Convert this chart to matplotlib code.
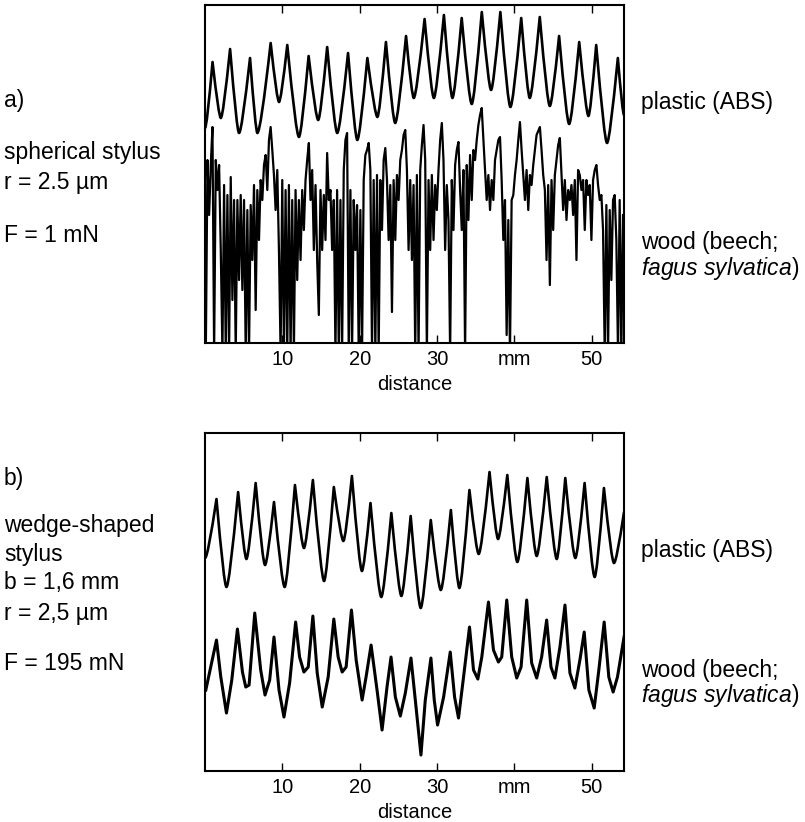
import numpy as np
import matplotlib.pyplot as plt
from matplotlib.path import Path
from matplotlib.patches import PathPatch

plt.rcParams['font.family'] = ['Liberation Sans', 'DejaVu Sans']
plt.rcParams['mathtext.fontset'] = 'custom'
plt.rcParams['mathtext.rm'] = 'Liberation Sans'
plt.rcParams['mathtext.it'] = 'Liberation Sans:italic'

# ---- a) spherical stylus ----
# plastic (ABS): cusp peaks and troughs (distance in mm, height in arbitrary units)
abs_a_peak_x = [0.97, 3.24, 5.82, 8.49, 10.64, 13.4, 15.8, 18.5, 21.0, 23.4, 26.0,
                28.4, 30.9, 33.2, 35.8, 38.2, 40.9, 43.3, 45.8, 48.4, 50.6, 53.4]
abs_a_peak_h = [281, 294, 285, 300, 298, 287, 296, 290, 285, 301, 307,
                324, 328, 325, 331, 331, 325, 326, 307, 301, 298, 285]
# first and last entries are the profile values at the scan ends
abs_a_trough_x = [0.0, 2.04, 4.4, 6.77, 9.57, 12.15, 14.64, 17.1, 19.7, 22.3, 24.6, 27.0,
                  29.6, 32.0, 34.5, 37.0, 39.5, 42.0, 44.6, 47.1, 49.6, 52.0, 54.2]
abs_a_trough_h = [215, 225, 210, 210, 241, 206, 223, 210, 203, 226, 220, 245,
                  245, 245, 239, 253, 236, 245, 237, 219, 227, 200, 228]

# wood (beech), profile samples
wood_a_x0 = 0.1
wood_a_step = 0.215
wood_a_h = [
    -10, 183, 128, 178, 216, -10, 183, 153, 178, 93, -10, 158, -10, 148, -10, 166,
    43, 143, -10, 143, 63, 148, 53, 143, -10, 133, -10, 138, 83, 158, 33, 153,
    103, 163, 143, 178, 188, 153, 203, 216, 193, 168, 133, 173, 93, -10, 163, -10,
    153, -10, 158, -10, 143, -10, 153, 63, 143, 83, 153, 113, 163, 183, 200, 143,
    173, 93, 158, 83, 28, 153, 93, 148, 103, 190, 143, 153, 93, 143, -10, 153,
    -10, 143, -10, 173, 203, 210, -10, 153, -10, 143, 93, 138, -10, 133, -10, 163,
    188, 193, 200, 173, -10, 163, -10, 168, -10, 163, 113, 183, 195, 163, 103, 158,
    31, 163, 103, 168, 143, 183, 193, 208, 213, 173, 93, 163, 83, 158, -10, 168,
    -10, 173, 198, 218, 183, -10, 163, 93, 168, 103, 158, 133, 173, 203, 220, 183,
    93, 158, 123, -10, 163, 113, 178, 193, 201, 153, 113, 173, -10, 178, 123, 188,
    143, 193, 183, 203, 218, 228, 235, 203, 173, 143, 168, 133, 163, 143, 183, 193,
    203, 206, 163, 103, 143, 8, 123, -10, 143, 148, 168, 183, 203, 221, 193, 168,
    143, 173, 133, 168, 158, 178, 193, 208, 212, 216, 193, 168, 153, 83, 158, 58,
    163, 113, 168, 183, 198, 205, 168, 133, 163, 123, 153, 143, 158, 128, 163, 83,
    173, 168, 153, 163, 113, 163, 148, 158, 103, 163, 173, 178, 158, 143, 148, 113,
    -10, 138, -10, 133, 63, 143, 148, 103, -10, 143, -10, 128,
]

# ---- b) wedge-shaped stylus ----
abs_b_peak_x = [1.48, 4.28, 6.55, 8.92, 11.63, 13.95, 16.66, 19.0, 21.4, 24.1, 26.6,
                29.2, 31.8, 34.2, 36.8, 39.1, 41.7, 44.2, 46.6, 49.1, 51.6, 54.2]
abs_b_peak_h = [272, 279, 288, 269, 286, 291, 284, 295, 268, 258, 255,
                251, 261, 281, 299, 296, 293, 294, 293, 288, 283, 259]
abs_b_trough_x = [0.0, 2.77, 5.35, 7.76, 10.3, 12.8, 15.4, 17.9, 20.3, 22.8, 25.4,
                  27.9, 30.5, 32.9, 35.4, 37.9, 40.4, 42.9, 45.5, 47.9, 50.4, 52.9]
abs_b_trough_h = [213, 184, 212, 206, 184, 223, 190, 230, 200, 174, 175,
                  163, 181, 183, 217, 232, 209, 215, 212, 213, 194, 208]

wood_b_x = [0.1, 1.48, 2.04, 2.77, 3.46, 4.19, 4.84, 5.27, 5.70, 6.43, 7.20, 7.76, 8.36,
            8.92, 9.57, 10.21, 10.94, 11.72, 12.23, 12.79, 13.35, 13.95, 14.51, 15.16,
            15.93, 16.66, 17.22, 17.74, 18.25, 18.94, 19.55, 20.32, 20.83, 21.48, 22.25,
            22.90, 23.54, 24.06, 24.62, 25.26, 25.91, 26.64, 27.20, 27.93, 28.49, 29.22,
            29.65, 30.08, 30.86, 31.72, 32.28, 32.79, 33.44, 34.21, 34.73, 35.29, 35.80,
            36.66, 37.31, 37.95, 38.38, 39.03, 39.67, 40.32, 40.88, 41.61, 42.25, 42.90,
            43.54, 44.19, 44.75, 45.26, 45.91, 46.56, 47.20, 47.84, 48.49, 49.05, 49.65,
            50.34, 50.94, 51.63, 52.23, 52.79, 53.35, 54.2]
wood_b_h = [81, 131, 94, 58, 91, 142, 99, 84, 86, 158, 101, 76, 91,
            134, 81, 54, 88, 149, 114, 99, 104, 155, 98, 64,
            94, 152, 114, 99, 104, 161, 111, 71, 94, 126, 81,
            41, 84, 114, 74, 55, 78, 113, 71, 16, 71, 113,
            71, 46, 74, 119, 74, 53, 94, 144, 101, 92, 114,
            169, 121, 109, 114, 171, 114, 93, 104, 171, 108, 93,
            114, 151, 104, 93, 124, 166, 98, 83, 111, 139, 81,
            63, 101, 149, 94, 79, 94, 134]

tick_pos = [10, 20, 30, 40, 50]
tick_lab = ['10', '20', '30', 'mm', '50']


def scallop(ax, tx, th, px, ph):
    # troughs and peaks alternate, starting with a trough; rounded troughs, sharp cusps
    nodes = []
    for i in range(len(tx)):
        nodes.append((tx[i], th[i], 't'))
        if i < len(px):
            nodes.append((px[i], ph[i], 'p'))
    verts = [nodes[0][:2]]
    codes = [Path.MOVETO]
    for a, b in zip(nodes[:-1], nodes[1:]):
        t, p = (a, b) if a[2] == 't' else (b, a)
        ctrl = (t[0] + 0.24 * (p[0] - t[0]), t[1])
        verts += [ctrl, b[:2]]
        codes += [Path.CURVE3, Path.CURVE3]
    ax.add_patch(PathPatch(Path(verts, codes), fill=False, lw=1.9,
                           edgecolor='black', capstyle='round', joinstyle='round'))


fig = plt.figure(figsize=(8.05, 8.22), dpi=100)
ax_a = fig.add_axes([0.2547, 0.5827, 0.5205, 0.4112])
ax_b = fig.add_axes([0.2547, 0.0620, 0.5205, 0.4112])

scallop(ax_a, abs_a_trough_x, abs_a_trough_h, abs_a_peak_x, abs_a_peak_h)
wood_a_x = wood_a_x0 + wood_a_step * np.arange(len(wood_a_h))
ax_a.plot(wood_a_x, wood_a_h, color='black', lw=1.6)

scallop(ax_b, abs_b_trough_x, abs_b_trough_h, abs_b_peak_x, abs_b_peak_h)
ax_b.plot(wood_b_x, wood_b_h, color='black', lw=2.2, solid_joinstyle='round')

for ax in (ax_a, ax_b):
    ax.set_xlim(0, 54.2)
    ax.set_ylim(0, 338)
    ax.set_xticks(tick_pos)
    ax.set_xticklabels(tick_lab)
    ax.set_yticks([])
    ax.tick_params(axis='x', direction='in', top=True, length=6, width=1,
                   labelsize=14.5, pad=5)
    ax.set_xlabel('distance', fontsize=14.5, labelpad=4)
    for s in ax.spines.values():
        s.set_linewidth(1.5)

fs = 16.5
W, H = 805.0, 822.0


def label(x, y, s, **kw):
    fig.text(x / W, 1 - y / H, s, fontsize=fs, va='center', ha='left', **kw)


label(4, 100, 'a)')
label(4, 152, 'spherical stylus')
label(4, 182, 'r = 2.5 µm')
label(4, 235, 'F = 1 mN')
label(641, 102, 'plastic (ABS)')
label(641, 242, 'wood (beech;')
label(641, 268, r'$\mathit{fagus\ sylvatica}$)')

label(4, 478, 'b)')
label(4, 525, 'wedge-shaped')
label(4, 555, 'stylus')
label(4, 583, 'b = 1,6 mm')
label(4, 613, 'r = 2,5 µm')
label(4, 663, 'F = 195 mN')
label(641, 550, 'plastic (ABS)')
label(641, 670, 'wood (beech;')
label(641, 695, r'$\mathit{fagus\ sylvatica}$)')

fig.savefig('out.png', dpi=100)
